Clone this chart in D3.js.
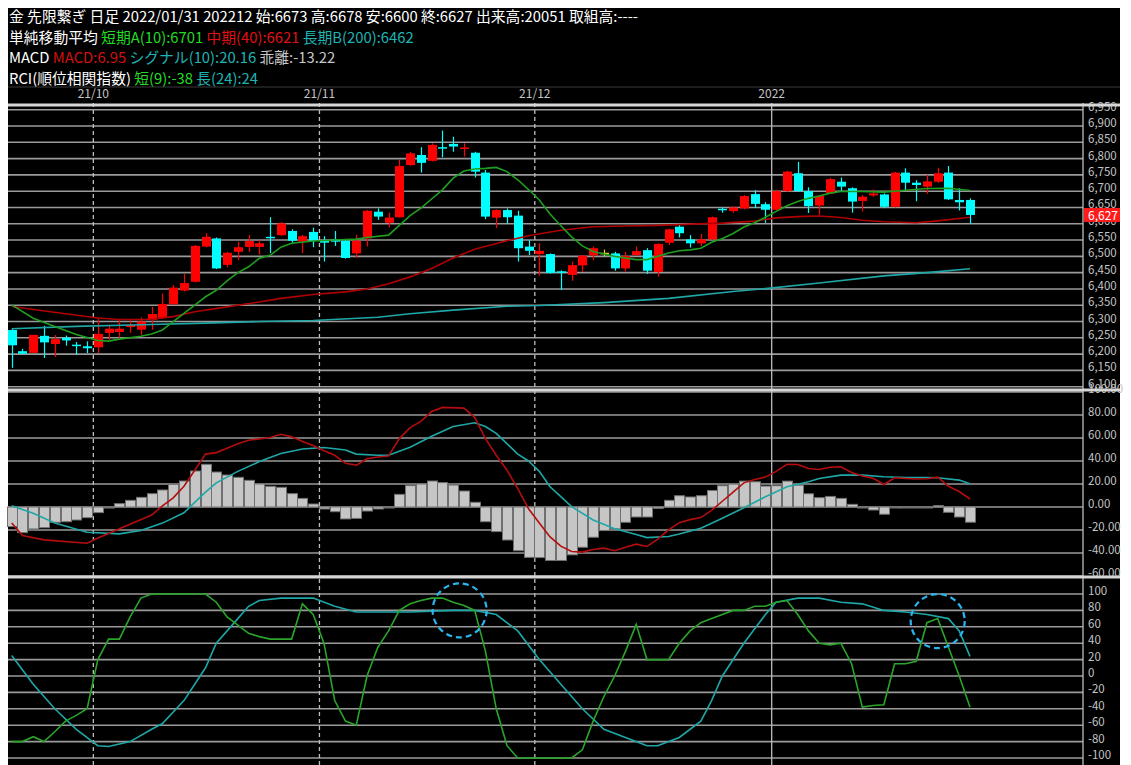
<!DOCTYPE html>
<html>
<head>
<meta charset="utf-8">
<script src="https://cdn.jsdelivr.net/npm/d3@7"></script>
<style>
  html, body { margin: 0; padding: 0; background: #fff; }
  svg { display: block; }
  text { font-family: "Noto Sans CJK JP", "Noto Sans", sans-serif; }
</style>
</head>
<body>
<svg id="chart" width="1131" height="765"></svg>
<script>
// ---------- data ----------
// daily candles, [open, high, low, close]
const ohlc = [
  [6274,6280,6158,6227],[6209,6216,6201,6201],[6204,6259,6204,6259],[6256,6287,6188,6236],[6231,6259,6191,6246],
  [6250,6257,6226,6242],[6229,6237,6198,6225],[6224,6239,6203,6218],[6221,6310,6203,6262],[6265,6290,6244,6278],
  [6268,6305,6244,6278],[6283,6305,6265,6290],[6275,6313,6259,6300],[6305,6345,6275,6323],[6311,6386,6309,6354],
  [6353,6412,6351,6404],[6395,6446,6392,6418],[6422,6535,6420,6532],[6530,6571,6528,6560],[6555,6558,6461,6463],
  [6474,6514,6467,6511],[6514,6545,6489,6528],[6529,6566,6514,6547],[6529,6550,6505,6540],[6560,6620,6510,6557],
  [6565,6606,6563,6601],[6578,6583,6542,6548],[6545,6566,6510,6562],[6575,6588,6528,6547],[6548,6562,6484,6542],
  [6552,6578,6532,6545],[6548,6550,6493,6495],[6509,6566,6495,6548],[6555,6642,6530,6640],[6637,6647,6612,6622],
  [6603,6634,6589,6619],[6620,6796,6619,6777],[6780,6821,6778,6816],[6811,6835,6757,6787],[6793,6847,6791,6842],
  [6835,6886,6804,6832],[6845,6867,6821,6837],[6830,6847,6806,6834],[6818,6821,6742,6760],[6757,6765,6614,6622],
  [6619,6644,6587,6642],[6642,6647,6600,6620],[6625,6640,6484,6525],[6530,6550,6504,6517],[6507,6540,6441,6517],
  [6507,6509,6447,6449],[6454,6457,6397,6451],[6443,6484,6425,6473],[6472,6505,6452,6502],[6503,6530,6488,6525],
  [6511,6521,6500,6511],[6509,6514,6456,6463],[6463,6514,6453,6501],[6504,6530,6501,6516],[6519,6525,6446,6456],
  [6452,6540,6438,6538],[6542,6585,6535,6583],[6591,6601,6558,6571],[6552,6565,6527,6540],[6540,6569,6532,6552],
  [6552,6622,6550,6620],[6646,6650,6634,6642],[6639,6654,6634,6650],[6647,6688,6644,6685],[6691,6703,6648,6661],
  [6660,6666,6603,6643],[6643,6705,6641,6700],[6700,6763,6698,6760],[6755,6790,6698,6700],[6700,6712,6633,6654],
  [6656,6688,6628,6686],[6693,6741,6691,6737],[6729,6742,6701,6714],[6709,6712,6634,6668],[6670,6688,6638,6683],
  [6687,6706,6683,6693],[6690,6693,6648,6652],[6652,6759,6650,6757],[6757,6770,6703,6726],[6726,6734,6669,6719],
  [6714,6750,6692,6730],[6729,6772,6725,6755],[6757,6777,6673,6675],[6673,6709,6641,6666],[6673,6678,6600,6627]
];

// moving averages, [candle index, value]
const sma10 = [[0,6351],[2,6310],[4,6285],[6,6260],[8,6242],[9,6240],[10,6246],[12,6255],[13,6262],[14,6274],
  [15,6300],[16,6325],[17,6350],[18,6376],[19,6396],[20,6425],[21,6450],[22,6468],[23,6494],[24,6503],[25,6528],
  [26,6540],[28,6547],[30,6550],[32,6553],[33,6558],[35,6565],[36,6595],[37,6625],[38,6648],[39,6676],[40,6704],
  [41,6740],[42,6762],[43,6768],[44,6770],[45,6773],[46,6760],[47,6735],[48,6705],[49,6673],[50,6630],[51,6594],
  [52,6560],[53,6532],[54,6515],[55,6507],[56,6500],[57,6495],[58,6490],[59,6490],[60,6500],[61,6510],[62,6517],
  [63,6520],[64,6525],[65,6543],[66,6555],[67,6570],[68,6590],[69,6603],[70,6620],[71,6638],[72,6655],[73,6668],
  [74,6678],[75,6685],[76,6694],[77,6699],[79,6699],[81,6697],[83,6703],[85,6708],[87,6709],[89,6702]];
const sma40 = [[0,6346],[2,6337],[5,6324],[8,6311],[10,6306],[13,6307],[15,6315],[17,6330],[20,6345],[23,6360],
  [25,6371],[28,6383],[31,6391],[33,6400],[35,6416],[37,6437],[39,6463],[41,6495],[43,6522],[46,6548],[48,6563],
  [51,6580],[54,6591],[57,6593],[60,6595],[63,6599],[66,6602],[69,6608],[71,6618],[73,6622],[75,6624],[77,6619],
  [79,6611],[81,6606],[84,6603],[86,6609],[89,6620]];
const sma200 = [[0,6278],[6,6285],[12,6290],[18,6295],[23,6300],[28,6303],[34,6313],[37,6324],[41,6335],[46,6347],
  [49,6349],[55,6358],[61,6371],[67,6392],[70,6401],[75,6418],[81,6440],[85,6450],[89,6462]];

// MACD
const macdLine = [[0,-14],[1,-24.8],[3,-28.6],[7,-31.5],[8,-27],[9,-23],[10,-19],[13,-7],[14,1],[15,8],[16,18],
  [17,32],[18,46],[19,47.3],[20,51],[21,55],[22,58],[24,60.5],[25,63.2],[26,61],[27,57],[28,53.5],[29,49],[30,45],
  [31,38],[32,36.4],[33,42],[34,43.5],[35,44.4],[36,59.5],[37,69],[38,74.5],[39,83],[40,86.6],[42,86],[43,78],
  [44,59.5],[45,45],[46,32],[47,16],[48,-1.5],[49,-14],[50,-26],[51,-34],[52,-38.7],[53,-39.2],[54,-37],[55,-35.8],
  [56,-38],[57,-35],[58,-32.3],[59,-34.3],[60,-28],[61,-20],[62,-13.6],[63,-11],[64,-9.2],[65,-3],[66,5],[67,13],
  [68,21],[69,24],[70,26],[71,31],[72,37.2],[73,37],[74,33.5],[75,32.6],[76,34.5],[77,34.9],[78,30],[79,27],
  [80,25],[81,19.6],[82,25.4],[83,24.8],[84,24.4],[85,24.5],[86,26],[87,18],[88,13.5],[89,6.95]];
const signalLine = [[0,1],[2,-5.5],[4,-14],[7,-22],[10,-23.4],[12,-20.5],[14,-14],[16,-5],[17,4],[18,13],[19,21],
  [21,31],[23,39.5],[25,46.5],[27,50.5],[29,51.7],[31,49.5],[32,46],[34,45],[35,45],[37,52],[39,61.5],[41,70],
  [43,73.3],[44,70],[45,64],[47,46],[48,40],[49,31],[50,17.6],[51,9],[52,0.3],[54,-11.3],[56,-19],[58,-24],
  [59,-26.6],[61,-25.7],[62,-23.5],[64,-18.5],[66,-9.8],[68,-0.6],[70,8.9],[72,17.6],[74,22],[75,24.8],[77,27.7],
  [79,27.7],[81,26.3],[83,25.7],[85,25.7],[86,25.4],[88,23.4],[89,20.16]];
const macdHist = [-17,-22.3,-19.1,-18,-13.3,-12.8,-11.3,-9.3,-4.9,-0.9,
  2.9,5.8,8.4,11.6,14.8,19.7,22.6,31.3,37.1,30.4,
  27.8,25.8,23.2,20,18,17.1,11.6,7.5,2.6,-1.7,
  -4.1,-10.4,-9.9,-3.5,-1.7,-0.6,11,18.6,20,22.6,
  21.2,19.1,13.9,4.1,-12.8,-21.4,-28.7,-38,-43.8,-44,
  -46.5,-46.5,-41.6,-35,-26.3,-20.5,-19,-13.3,-8.7,-8.7,
  -1.2,5.8,9.8,8.7,9.8,14.4,18.5,19.9,22.5,21.9,
  18.2,18.5,22.5,19,11.5,8.1,9.2,7.5,2.3,-0.6,
  -2.6,-6.3,-0.6,-0.6,-0.6,-0.6,1.2,-4.6,-8.7,-13.22];

// RCI
const rciShort = [-80,-80,-74,-80,-68,-55,-48,-40,20,45,45,72,95,100,100,100,100,100,100,90,
  72,62,52,48,45,45,45,88,75,40,-30,-55,-60,0,35,55,80,88,92,95,
  95,90,86,80,30,-40,-85,-100,-100,-100,-100,-100,-100,-90,-55,-25,0,30,63,20,
  20,20,40,55,65,70,75,80,80,85,85,90,92,75,55,40,38,40,15,-38,
  -36,-35,15,15,18,65,70,35,0,-38];
const rciLong = [[0,25],[2,-10],[4,-40],[6,-65],[8,-85],[9,-86],[11,-80],[13,-65],[14,-58],[16,-30],[17,-10],
  [18,10],[19,40],[21,70],[22,85],[23,92],[25,95],[28,95],[30,85],[32,78],[37,78],[41,80],[43,80],[45,75],[47,55],
  [49,20],[51,-10],[53,-40],[55,-65],[57,-75],[59,-85],[60,-85],[62,-75],[64,-55],[65,-30],[66,0],[68,40],[70,75],
  [71,90],[73,95],[75,95],[77,90],[79,88],[81,80],[83,78],[85,75],[87,70],[88,55],[89,24]];

// month boundaries on the time axis (index of first candle of the month)
const monthTicks = [{ i: 8, label: '21/10', year: false }, { i: 29, label: '21/11', year: false },
  { i: 49, label: '21/12', year: false }, { i: 71, label: '2022', year: true }];
const priceTicks = d3.range(6100, 6951, 50);
const macdTicks = d3.range(-60, 101, 20);
const rciTicks = d3.range(-100, 101, 20);
const lastPrice = 6627;
const rciMarks = [{ i: 41.6, v: 80 }, { i: 86, v: 67 }];   // dashed circles

// ---------- layout ----------
const W = 1131, H = 765;
const L = 8, R = 1083;
const svg = d3.select('#chart');
const COL = { grid: '#9a9a9a', axisText: '#c4c4c4', up: '#ff0000', down: '#00ffff',
  ma10: '#1f9f1f', ma40: '#b00000', ma200: '#1fa7a7', macd: '#b40d0d', sig: '#1fa7a7',
  rciS: '#2aa52a', rciL: '#1fa7a7', border: '#d6d6d6' };

svg.append('rect').attr('x', 0).attr('y', 0).attr('width', W).attr('height', H).attr('fill', '#fff');
svg.append('rect').attr('x', L).attr('y', 8).attr('width', 1112).attr('height', H - 8).attr('fill', '#000');

const x = d3.scaleLinear().domain([0, ohlc.length - 1]).range([11.7, 970]);
const yP = d3.scaleLinear().domain([6100, 6900]).range([386.7, 126]);
const yM = d3.scaleLinear().domain([-40, 80]).range([553, 415]);
const yR = d3.scaleLinear().domain([-100, 100]).range([758, 594]);

// ---------- header ----------
const header = [
  [['金 先限繋ぎ 日足 2022/01/31 202212 始:6673 高:6678 安:6600 終:6627 出来高:20051 取組高:----', '#fff']],
  [['単純移動平均 ', '#fff'], ['短期A(10):6701 ', '#22dd22'], ['中期(40):6621 ', '#e01010'], ['長期B(200):6462', '#1fb4b4']],
  [['MACD ', '#fff'], ['MACD:6.95 ', '#d01010'], ['シグナル(10):20.16 ', '#1fb4b4'], ['乖離:-13.22', '#c8c8c8']],
  [['RCI(順位相関指数) ', '#fff'], ['短(9):-38 ', '#22dd22'], ['長(24):24', '#1fb4b4']]
];
header.forEach((parts, k) => {
  const t = svg.append('text').attr('x', 9).attr('y', 22 + k * 20.5).attr('font-size', 14.8);
  parts.forEach(p => t.append('tspan').attr('fill', p[1]).text(p[0]));
});

// time axis labels
svg.selectAll('text.mt').data(monthTicks).join('text').attr('class', 'mt')
  .attr('x', d => x(d.i) - 4.5).attr('y', 98).attr('text-anchor', 'middle')
  .attr('font-size', 12).attr('fill', COL.axisText).text(d => d.label);

// ---------- grids ----------
function hgrid(ticks, scale) {
  svg.append('g').selectAll('line').data(ticks).join('line')
    .attr('x1', L).attr('x2', R).attr('y1', d => scale(d)).attr('y2', d => scale(d))
    .attr('stroke', COL.grid).attr('stroke-width', 1.6);
}
hgrid(priceTicks, yP);
hgrid(macdTicks, yM);
hgrid(rciTicks, yR);

svg.append('g').selectAll('line').data(monthTicks).join('line')
  .attr('x1', d => x(d.i) - 4.5).attr('x2', d => x(d.i) - 4.5).attr('y1', 103).attr('y2', H)
  .attr('stroke', '#bdbdbd').attr('stroke-width', 1.3)
  .attr('stroke-dasharray', d => d.year ? null : '4,3');

// ---------- candles ----------
const gC = svg.append('g');
ohlc.forEach((d, i) => {
  const [o, h, l, c] = d;
  const col = c > o ? COL.up : c < o ? COL.down : '#d8d820';
  const cx = Math.round(x(i)) + 0.5;
  gC.append('line').attr('x1', cx).attr('x2', cx).attr('y1', yP(h)).attr('y2', yP(l))
    .attr('stroke', col).attr('stroke-width', 1.2);
  const top = yP(Math.max(o, c)), bot = yP(Math.min(o, c));
  gC.append('rect').attr('x', cx - 4.5).attr('y', top).attr('width', 9)
    .attr('height', Math.max(1.5, bot - top)).attr('fill', col);
});

const lineP = d3.line().x(d => x(d[0])).y(d => yP(d[1]));
[[sma200, COL.ma200], [sma40, COL.ma40], [sma10, COL.ma10]].forEach(([data, col]) => {
  svg.append('path').datum(data).attr('d', lineP).attr('fill', 'none')
    .attr('stroke', col).attr('stroke-width', 1.6);
});

// ---------- MACD ----------
svg.append('g').selectAll('rect').data(macdHist).join('rect')
  .attr('x', (d, i) => Math.round(x(i)) - 4.5)
  .attr('y', d => Math.min(yM(0), yM(d)))
  .attr('width', 10).attr('height', d => Math.max(1, Math.abs(yM(d) - yM(0))))
  .attr('fill', '#c6c6c6').attr('stroke', '#707070').attr('stroke-width', 1);
const lineM = d3.line().x(d => x(d[0])).y(d => yM(d[1]));
svg.append('path').datum(signalLine).attr('d', lineM).attr('fill', 'none').attr('stroke', COL.sig).attr('stroke-width', 1.6);
svg.append('path').datum(macdLine).attr('d', lineM).attr('fill', 'none').attr('stroke', COL.macd).attr('stroke-width', 1.6);

// ---------- RCI ----------
const lineR = d3.line().x(d => x(d[0])).y(d => yR(d[1]));
svg.append('path').datum(rciLong).attr('d', lineR).attr('fill', 'none').attr('stroke', COL.rciL).attr('stroke-width', 1.6);
svg.append('path').datum(rciShort.map((v, i) => [i, v])).attr('d', lineR).attr('fill', 'none')
  .attr('stroke', COL.rciS).attr('stroke-width', 1.6);
svg.append('g').selectAll('circle').data(rciMarks).join('circle')
  .attr('cx', d => x(d.i)).attr('cy', d => yR(d.v)).attr('r', 27)
  .attr('fill', 'none').attr('stroke', '#29b6f0').attr('stroke-width', 2.2).attr('stroke-dasharray', '6,4');

// ---------- right axis ----------
svg.append('rect').attr('x', R + 1).attr('y', 103).attr('width', 1120 - R - 1).attr('height', H - 103).attr('fill', '#000');
function axisLabels(ticks, scale, fmt) {
  svg.append('g').selectAll('text').data(ticks).join('text')
    .attr('x', R + 5).attr('y', d => scale(d) + 1).attr('font-size', 11.5)
    .attr('font-family', 'Arial, "Liberation Sans", sans-serif').attr('fill', COL.axisText).text(fmt);
}
axisLabels(priceTicks, yP, d3.format(','));
axisLabels(macdTicks, yM, d => d.toFixed(2));
axisLabels(rciTicks, yR, d => String(d));
// last price tag
svg.append('rect').attr('x', R + 1).attr('y', yP(lastPrice) - 7).attr('width', 36).attr('height', 14).attr('fill', '#ff1a1a');
svg.append('text').attr('x', R + 5).attr('y', yP(lastPrice) + 5).attr('font-size', 12)
  .attr('font-family', 'Arial, "Liberation Sans", sans-serif').attr('fill', '#fff').text(d3.format(',')(lastPrice));

// ---------- borders ----------
svg.append('line').attr('x1', R).attr('x2', R).attr('y1', 103).attr('y2', H).attr('stroke', '#bdbdbd').attr('stroke-width', 1.3);
[105, 390, 577].forEach(yy => {
  svg.append('line').attr('x1', L).attr('x2', 1120).attr('y1', yy).attr('y2', yy)
    .attr('stroke', COL.border).attr('stroke-width', 3);
});
svg.append('line').attr('x1', L).attr('x2', 1120).attr('y1', 87).attr('y2', 87).attr('stroke', '#3a3a3a').attr('stroke-width', 1);
</script>
</body>
</html>
